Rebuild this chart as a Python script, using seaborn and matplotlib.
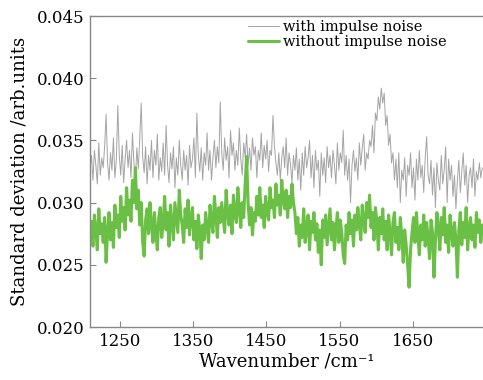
import numpy as np
import pandas as pd
import matplotlib
matplotlib.use("Agg")
import matplotlib.pyplot as plt
import seaborn as sns

# wavenumber grid (cm^-1)
wavenumber = np.arange(1209, 1747, 2)

# standard deviation with impulse noise (gray), in units of 1e-4
with_noise_e4 = [
    325, 338, 318, 342, 330, 315, 348, 322, 336, 328,
    345, 371, 332, 318, 340, 326, 352, 320, 334, 378,
    338, 322, 346, 316, 335, 350, 328, 342, 320, 356,
    332, 318, 344, 327, 352, 380, 336, 324, 345, 315,
    338, 326, 350, 320, 342, 330, 355, 318, 336, 325,
    348, 322, 362, 330, 316, 340, 327, 345, 312, 336,
    322, 350, 330, 318, 342, 326, 338, 314, 346, 328,
    335, 352, 320, 372, 338, 325, 344, 318, 340, 330,
    356, 326, 342, 318, 336, 350, 328, 345, 332, 381,
    340, 326, 352, 334, 345, 320, 358, 338, 348, 326,
    342, 330, 360, 335, 322, 348, 336, 355, 330, 344,
    326, 352, 338, 345, 320, 342, 334, 356, 328, 346,
    335, 350, 325, 342, 338, 370, 346, 332, 322, 340,
    318, 336, 345, 328, 352, 322, 340, 330, 316, 338,
    326, 344, 318, 335, 310, 340, 322, 345, 328, 336,
    350, 320, 338, 312, 342, 326, 334, 305, 340, 322,
    336, 316, 345, 328, 338, 320, 342, 330, 315, 348,
    326, 340, 332, 358, 322, 338, 318, 335, 300, 330,
    342, 325, 336, 318, 348, 330, 344, 355, 326, 340,
    335, 350, 345, 362, 340, 372, 366, 385, 375, 392,
    380, 388, 362, 370, 346, 355, 332, 340, 318, 335,
    312, 340, 300, 326, 318, 336, 305, 330, 322, 340,
    312, 328, 302, 335, 318, 342, 320, 330, 308, 336,
    353, 322, 315, 334, 306, 328, 296, 332, 318, 310,
    338, 315, 326, 345, 300, 335, 318, 330, 305, 322,
    295, 318, 334, 308, 325, 340, 314, 330, 300, 322,
    328, 312, 335, 305, 325, 318, 332, 320, 328,
]

# standard deviation without impulse noise (green), in units of 1e-4
without_noise_e4 = [
    272, 285, 265, 290, 278, 262, 295, 275, 283, 268,
    288, 252, 276, 292, 270, 284, 264, 298, 280, 290,
    272, 305, 285, 296, 278, 312, 290, 302, 285, 318,
    300, 328, 295, 310, 282, 300, 268, 257, 286, 295,
    275, 300, 282, 268, 292, 276, 262, 288, 296, 272,
    284, 305, 278, 292, 265, 298, 283, 270, 300, 288,
    276, 310, 290, 282, 268, 295, 280, 302, 274, 288,
    296, 270, 285, 263, 290, 278, 255, 282, 270, 292,
    280, 268, 298, 285, 276, 305, 290, 272, 296, 284,
    300, 288, 276, 310, 292, 282, 298, 275, 306, 290,
    284, 312, 295, 280, 300, 288, 315, 337, 300, 282,
    296, 274, 292, 285, 305, 290, 312, 288, 298, 280,
    305, 292, 286, 312, 296, 302, 288, 315, 298, 306,
    290, 318, 302, 295, 310, 288, 305, 296, 315, 300,
    292, 275, 288, 265, 282, 272, 295, 268, 280, 290,
    262, 285, 276, 292, 270, 283, 260, 278, 250, 286,
    272, 290, 266, 280, 295, 270, 284, 262, 278, 292,
    268, 286, 276, 258, 251, 282, 270, 292, 275, 286,
    265, 290, 278, 296, 282, 270, 298, 285, 276, 300,
    288, 306, 280, 292, 270, 296, 284, 262, 288, 275,
    295, 270, 285, 262, 290, 276, 258, 284, 292, 268,
    280, 262, 288, 274, 252, 278, 266, 250, 232, 262,
    276, 288, 268, 292, 274, 258, 282, 270, 290, 265,
    284, 272, 255, 286, 276, 240, 270, 292, 280, 262,
    288, 274, 296, 268, 282, 260, 290, 276, 265, 284,
    270, 240, 278, 292, 266, 284, 272, 296, 262, 280,
    288, 270, 282, 264, 292, 276, 286, 268, 282,
]

with_noise = np.array(with_noise_e4) * 1e-4
without_noise = np.array(without_noise_e4) * 1e-4

series_names = ["with impulse noise", "without impulse noise"]
x_ticks = [1250, 1350, 1450, 1550, 1650]
y_ticks = [0.020, 0.025, 0.030, 0.035, 0.040, 0.045]

df_with = pd.DataFrame({"wn": wavenumber, "sd": with_noise})
df_without = pd.DataFrame({"wn": wavenumber, "sd": without_noise})

sns.set_theme(style="ticks")
plt.rcParams["font.family"] = ["DejaVu Serif"]
plt.rcParams["text.color"] = "black"
plt.rcParams["axes.labelcolor"] = "black"
plt.rcParams["xtick.labelcolor"] = "black"
plt.rcParams["ytick.labelcolor"] = "black"

fig = plt.figure(figsize=(4.83, 3.80), dpi=100)
ax = fig.add_axes([90 / 483, 1 - 327 / 380, 1 - 90 / 483, (327 - 16) / 380])

sns.lineplot(data=df_with, x="wn", y="sd", color="#a4a4a4",
             linewidth=0.7, ax=ax, label=series_names[0])
sns.lineplot(data=df_without, x="wn", y="sd", color="#6abf45",
             linewidth=2.2, ax=ax, label=series_names[1])

ax.set_xlim(1209, 1746)
ax.set_ylim(0.020, 0.045)
ax.set_xticks(x_ticks)
ax.set_yticks(y_ticks)
ax.set_yticklabels([f"{v:.3f}" for v in y_ticks])
ax.tick_params(direction="in", length=4, width=0.8, color="#888888", labelsize=12, pad=4)
for s in ["left", "bottom", "top"]:
    ax.spines[s].set_color("#888888")
    ax.spines[s].set_linewidth(1.0)
ax.spines["right"].set_visible(False)

ax.set_xlabel("Wavenumber /cm\u207b\u00b9", fontsize=13, labelpad=2)
ax.set_ylabel("Standard deviation /arb.units", fontsize=13, labelpad=6)

ax.legend(loc="upper left", bbox_to_anchor=(248 / 483, 1 - 20 / 380), bbox_transform=fig.transFigure,
          frameon=False, fontsize=10.5, handlelength=2.1, handletextpad=0.3,
          borderpad=0, borderaxespad=0, labelspacing=0.1)

fig.savefig("out.png", dpi=100)
